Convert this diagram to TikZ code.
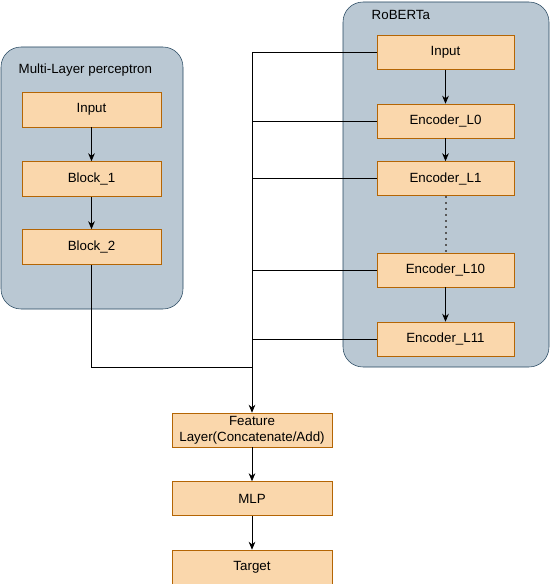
\documentclass[tikz,border=0pt]{standalone}
\usepackage{fontspec}
\setmainfont{Liberation Sans}
\usetikzlibrary{arrows.meta}
\definecolor{boxfill}{HTML}{FAD7AC}
\definecolor{boxline}{HTML}{B46504}
\definecolor{grpfill}{HTML}{BAC8D3}
\definecolor{grpline}{HTML}{23445D}
\begin{document}
\begin{tikzpicture}[x=0.75pt, y=-0.75pt,
        every node/.style={font=\fontsize{10}{12}\selectfont},
        group/.style={draw=grpline, fill=grpfill, rounded corners=15pt},
        layer/.style={draw=boxline, fill=boxfill, minimum width=102.75pt, minimum height=25.5pt, inner sep=1pt},
        mlplayer/.style={layer, minimum width=104.25pt, minimum height=26.25pt},
        outlayer/.style={layer, minimum width=120pt, align=center},
        link/.style={-{Stealth[length=6pt, width=5pt]}, semithick}]
    \useasboundingbox (0,0) rectangle (550,584);
    % containers
    \draw[group] (1,47) rectangle (183,309);
    \draw[group] (343,2) rectangle (549,367);
    \node[anchor=west] (mlptitle) at (14,70) {Multi-Layer perceptron};
    \node[anchor=west] (rbtitle) at (367,15) {RoBERTa};
    % multi-layer perceptron
    \node[mlplayer] (in1) at (91.5,109.5) {Input};
    \node[mlplayer] (b1) at (91.5,179) {Block\_1};
    \node[mlplayer] (b2) at (91.5,247) {Block\_2};
    \draw[link] (in1) -- (b1);
    \draw[link] (b1) -- (b2);
    % roberta
    \node[layer] (in2) at (445.5,52.5) {Input};
    \node[layer] (l0) at (445.5,121) {Encoder\_L0};
    \node[layer] (l1) at (445.5,178.5) {Encoder\_L1};
    \node[layer] (l10) at (445.5,270) {Encoder\_L10};
    \node[layer] (l11) at (445.5,339) {Encoder\_L11};
    \draw[link] (in2) -- (l0);
    \draw[link] (l0) -- (l1);
    \draw[line width=1.5pt, dash pattern=on 1.5pt off 3pt, black!65] (l1) -- (l10);
    \draw[link] (l10) -- (l11);
    % head
    \node[outlayer] (feat) at (252,430) {Feature\\Layer(Concatenate/Add)};
    \node[outlayer] (mlp) at (252,498.5) {MLP};
    \node[outlayer] (tgt) at (252,567) {Target};
    \draw[link] (feat) -- (mlp);
    \draw[link] (mlp) -- (tgt);
    % feature bus
    \coordinate (join) at (252,367);
    \draw[link] (in2.west) -| (feat.north);
    \draw[thick] (in2.west) -- (in2.west -| feat.north);
    \foreach \enc in {l0,l1,l10,l11}
        \draw[semithick] (\enc.west) -- (\enc.west -| feat.north);
    \draw[semithick] (b2.south) |- (join);
\end{tikzpicture}
\end{document}
